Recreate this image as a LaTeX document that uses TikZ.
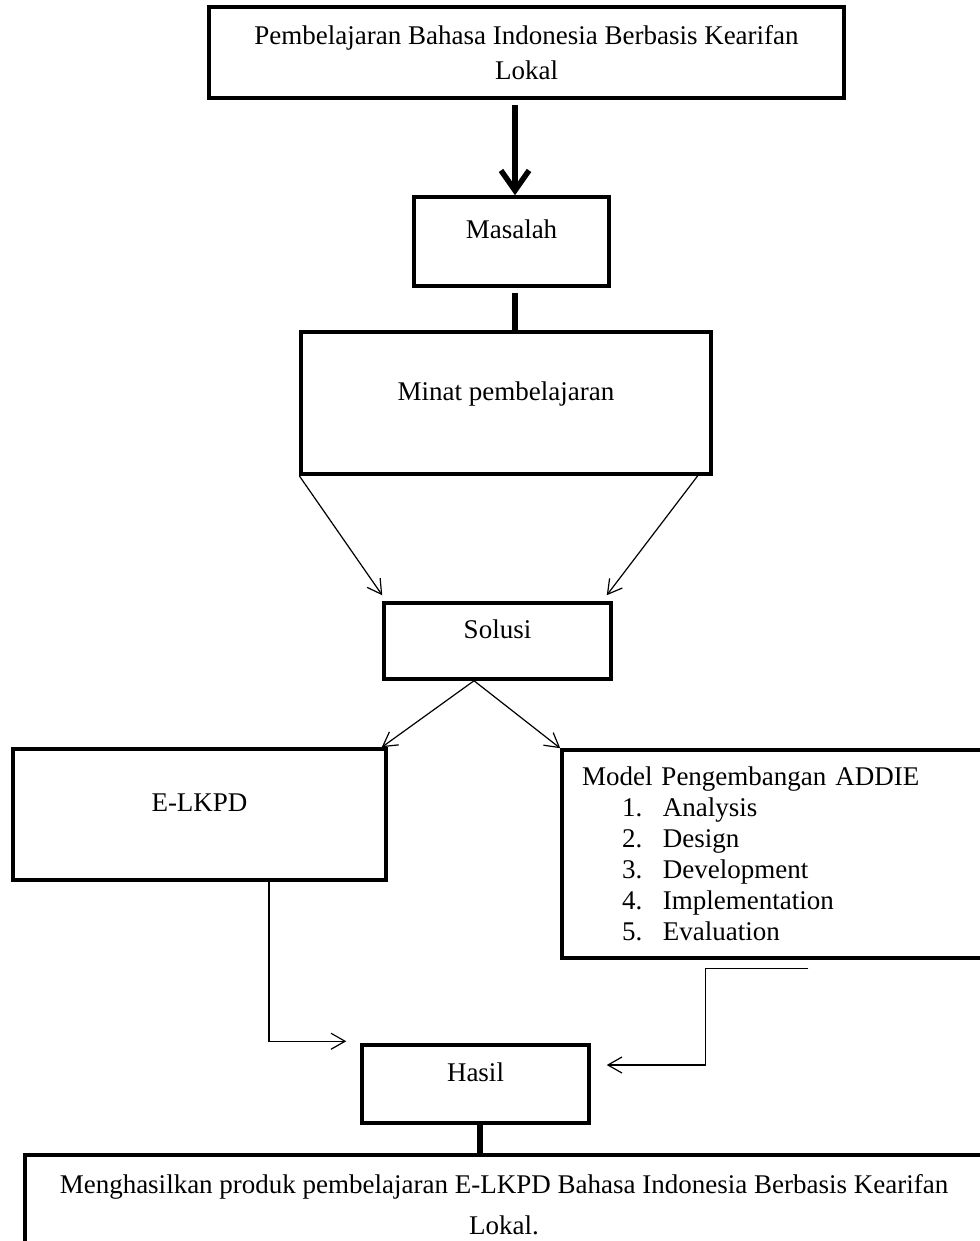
\documentclass[tikz,border=0pt]{standalone}
\usepackage{fontspec}
\setmainfont{Liberation Serif}
\usetikzlibrary{positioning, arrows.meta}

\begin{document}
\begin{tikzpicture}[
    node distance = 150pt,
    block/.style = {
        rectangle,
        draw = black,
        line width = 3.5pt,
        inner sep = 0pt,
        align = center,
        font = \fontsize{27pt}{35pt}\selectfont
    },
    single/.style = {
        block,
        text height = 18pt,
        text depth = 24pt
    },
    arrow/.style = {
        -{Straight Barb[length = 14pt, width = 16pt]},
        line width = 1.2pt
    },
    bigarrow/.style = {
        -{Straight Barb[length = 20pt, width = 28pt]},
        line width = 5.5pt
    },
    bigline/.style = {
        line width = 5.5pt
    }
]

    \useasboundingbox (0pt, 0pt) rectangle (979pt, -1241pt);

    % Nodes
    \node [block, minimum width = 635pt, minimum height = 91pt] (1) at (526.5pt, -52.5pt) {Pembelajaran Bahasa Indonesia Berbasis Kearifan\\Lokal};
    \node [single, minimum width = 195pt, minimum height = 89pt, node distance = 189pt, below of = 1, xshift = -15pt] (2) {Masalah};
    \node [single, minimum width = 410pt, minimum height = 142pt, node distance = 161.5pt, below of = 2, xshift = -5.5pt] (3) {Minat pembelajaran};
    \node [single, minimum width = 227pt, minimum height = 76pt, node distance = 238pt, below of = 3, xshift = -8.5pt] (4) {Solusi};
    \node [single, minimum width = 373pt, minimum height = 131pt, node distance = 173.5pt, below of = 4, xshift = -298pt] (5) {E-LKPD};
    \node [block, align = left, text width = 388pt, inner xsep = 20pt, minimum height = 208pt, font = \fontsize{27pt}{31pt}\selectfont, node distance = 213pt, below of = 4, xshift = 278.5pt] (6) {Model Pengembangan ADDIE\\
        \hspace*{40pt}\makebox[41pt][l]{1.}Analysis\\
        \hspace*{40pt}\makebox[41pt][l]{2.}Design\\
        \hspace*{40pt}\makebox[41pt][l]{3.}Development\\
        \hspace*{40pt}\makebox[41pt][l]{4.}Implementation\\
        \hspace*{40pt}\makebox[41pt][l]{5.}Evaluation};
    \node [single, minimum width = 227pt, minimum height = 78pt, node distance = 443pt, below of = 4, xshift = -22pt] (7) {Hasil};
    \node [block, minimum width = 958pt, minimum height = 100pt, font = \fontsize{27pt}{41pt}\selectfont, node distance = 121pt, below of = 7, xshift = 28.5pt] (8) {Menghasilkan produk pembelajaran E-LKPD Bahasa Indonesia Berbasis Kearifan\\Lokal.};

    % Arrows
    \draw [bigarrow] ([xshift = 3.5pt, yshift = 90pt]2.north) -- ([xshift = 3.5pt]2.north);
    \draw [bigline] ([xshift = 3.5pt, yshift = -5pt]2.south) -- ([xshift = 9pt]3.north);
    \draw [arrow] (3.south west) -- ([yshift = 6pt]4.north west);
    \draw [arrow] ([xshift = -15pt]3.south east) -- ([xshift = -6pt, yshift = 6pt]4.north east);
    \draw [arrow] ([xshift = -23.5pt]4.south) -- ([xshift = -6pt]5.north east);
    \draw [arrow] ([xshift = -23.5pt]4.south) -- (6.north west);
    \draw [arrow] ([xshift = 69.5pt]5.south) |- ([xshift = -14pt, yshift = 2pt]7.north west);
    \draw [arrow] ([xshift = 248pt, yshift = -9pt]6.south west) -- ([xshift = 145pt, yshift = -9pt]6.south west) |- ([xshift = 16pt, yshift = 19pt]7.east);
    \draw [bigline] ([xshift = 4.5pt]7.south) -- ([xshift = -24pt]8.north);

\end{tikzpicture}
\end{document}
